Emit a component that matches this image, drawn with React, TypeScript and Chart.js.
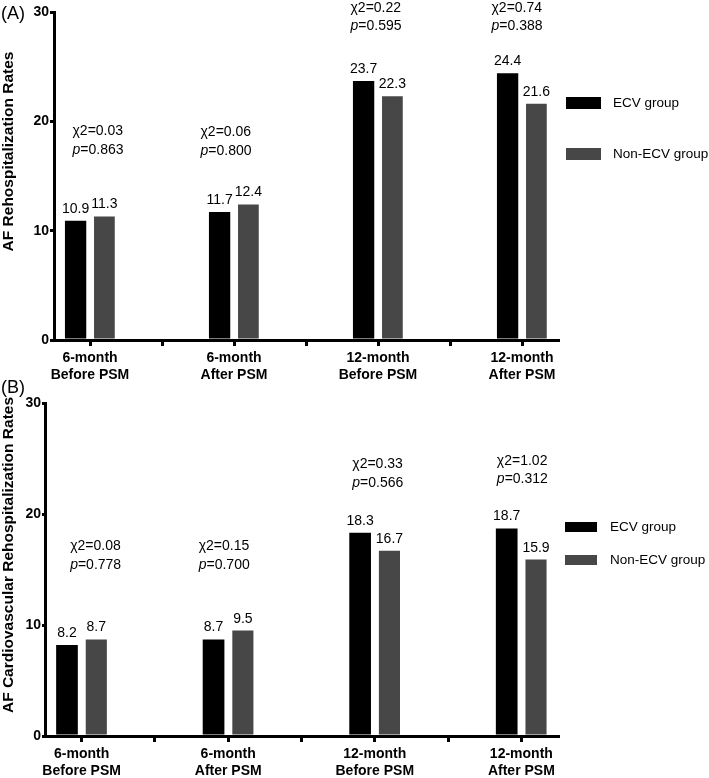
import React, { useEffect, useRef } from "react";
import { Chart, registerables } from "chart.js";

Chart.register(...registerables);

const FONT = 'Arial, "Liberation Sans", Helvetica, sans-serif';

// ---- Data ----
const CATEGORIES: string[][] = [
  ["6-month", "Before PSM"],
  ["6-month", "After PSM"],
  ["12-month", "Before PSM"],
  ["12-month", "After PSM"],
];
const SERIES = ["ECV group", "Non-ECV group"];
const Y_TICKS = [0, 10, 20, 30];

const A_ECV = [10.9, 11.7, 23.7, 24.4];
const A_NON = [11.3, 12.4, 22.3, 21.6];
const A_CHI = ["0.03", "0.06", "0.22", "0.74"];
const A_P = ["0.863", "0.800", "0.595", "0.388"];

const B_ECV = [8.2, 8.7, 18.3, 18.7];
const B_NON = [8.7, 9.5, 16.7, 15.9];
const B_CHI = ["0.08", "0.15", "0.33", "1.02"];
const B_P = ["0.778", "0.700", "0.566", "0.312"];

const COLORS = ["#000000", "#474747"];

function expand<T>(arr: T[], filler: T): T[] {
  const out: T[] = [];
  arr.forEach((v, i) => {
    out.push(v);
    if (i < arr.length - 1) out.push(filler);
  });
  return out;
}

type PanelCfg = {
  tag: string;
  yTitle: string;
  ecv: number[];
  non: number[];
  chi: string[];
  p: string[];
  statY: number[];
  statDx: number[];
  canvasTop: number;
  canvasH: number;
  padTop: number;
  xAxisH: number;
  yAxisW: number;
  tickLenY: number;
  tagY: number;
  titleX: number;
  titleY: number;
  legend: { boxX: number; boxW: number; boxH: number; rows: number[]; textX: number };
};

const PANEL_A: PanelCfg = {
  tag: "(A)",
  yTitle: "AF Rehospitalization Rates",
  ecv: A_ECV,
  non: A_NON,
  chi: A_CHI,
  p: A_P,
  statY: [17.4, 17.3, 28.7, 28.7],
  statDx: [8, -8, -2, -5],
  canvasTop: 0,
  canvasH: 390,
  padTop: 12,
  xAxisH: 50,
  yAxisW: 54,
  tickLenY: 4,
  tagY: 14,
  titleX: 9,
  titleY: 151.5,
  legend: { boxX: 566, boxW: 35, boxH: 12, rows: [103, 154], textX: 613 },
};

const PANEL_B: PanelCfg = {
  tag: "(B)",
  yTitle: "AF Cardiovascular Rehospitalization Rates",
  ecv: B_ECV,
  non: B_NON,
  chi: B_CHI,
  p: B_P,
  statY: [15.4, 15.4, 22.8, 23.1],
  statDx: [14, -4, 3, 1],
  canvasTop: 370,
  canvasH: 408,
  padTop: 33,
  xAxisH: 42,
  yAxisW: 45,
  tickLenY: 3,
  tagY: 18,
  titleX: 8.5,
  titleY: 185,
  legend: { boxX: 565, boxW: 32, boxH: 10, rows: [157, 190], textX: 610 },
};

const decorPlugin = {
  id: "panelDecor",
  afterDraw(chart: any, _args: any, cfg: PanelCfg) {
    const ctx: CanvasRenderingContext2D = chart.ctx;
    const xs = chart.scales.x;
    const ys = chart.scales.y;
    ctx.save();
    ctx.fillStyle = "#000";

    // data labels
    ctx.font = `14px ${FONT}`;
    ctx.textAlign = "center";
    ctx.textBaseline = "alphabetic";
    chart.data.datasets.forEach((ds: any, di: number) => {
      const meta = chart.getDatasetMeta(di);
      meta.data.forEach((el: any, j: number) => {
        const v = ds.data[j];
        if (v == null) return;
        ctx.fillText(Number(v).toFixed(1), el.x, el.y - 8);
      });
    });

    // statistics text
    cfg.chi.forEach((c, i) => {
      const gx = xs.getPixelForValue(i * 2) + cfg.statDx[i];
      const py = ys.getPixelForValue(cfg.statY[i]);
      const cy = py - 18.5;
      ctx.textBaseline = "middle";
      ctx.font = `14px ${FONT}`;
      const chiText = `\u03C72=${c}`;
      const wChi = ctx.measureText(chiText).width;
      ctx.font = `italic 14px ${FONT}`;
      const wP = ctx.measureText("p").width;
      ctx.font = `14px ${FONT}`;
      const rest = `=${cfg.p[i]}`;
      const wRest = ctx.measureText(rest).width;
      const left = gx - Math.max(wChi, wP + wRest) / 2;
      ctx.textAlign = "left";
      ctx.fillText(chiText, left, cy);
      ctx.font = `italic 14px ${FONT}`;
      ctx.fillText("p", left, py);
      ctx.font = `14px ${FONT}`;
      ctx.fillText(rest, left + wP, py);
    });

    // legend
    const lg = cfg.legend;
    chart.data.datasets.forEach((ds: any, di: number) => {
      const cy = lg.rows[di];
      ctx.fillStyle = ds.backgroundColor;
      ctx.fillRect(lg.boxX, cy - lg.boxH / 2, lg.boxW, lg.boxH);
      ctx.fillStyle = "#000";
      ctx.font = `13.5px ${FONT}`;
      ctx.textAlign = "left";
      ctx.textBaseline = "middle";
      ctx.fillText(ds.label, lg.textX, cy);
    });

    // panel tag
    ctx.font = `18px ${FONT}`;
    ctx.textAlign = "left";
    ctx.textBaseline = "middle";
    ctx.fillText(cfg.tag, 1, cfg.tagY);

    // y title
    ctx.save();
    ctx.translate(cfg.titleX, cfg.titleY);
    ctx.rotate(-Math.PI / 2);
    ctx.font = `bold 15.5px ${FONT}`;
    ctx.textAlign = "center";
    ctx.textBaseline = "middle";
    ctx.fillText(cfg.yTitle, 0, 0);
    ctx.restore();

    ctx.restore();
  },
};

function Panel({ cfg }: { cfg: PanelCfg }) {
  const ref = useRef<HTMLCanvasElement | null>(null);
  useEffect(() => {
    if (!ref.current) return;
    const tickFont = { family: FONT, size: 14, weight: "bold" as const, lineHeight: 1.2 };
    const chart = new Chart(ref.current, {
      type: "bar",
      data: {
        labels: expand<any>(CATEGORIES, ""),
        datasets: [
          {
            label: SERIES[0],
            data: expand<number | null>(cfg.ecv, null),
            backgroundColor: COLORS[0],
            categoryPercentage: 0.8,
            barPercentage: 0.74,
          },
          {
            label: SERIES[1],
            data: expand<number | null>(cfg.non, null),
            backgroundColor: COLORS[1],
            categoryPercentage: 0.8,
            barPercentage: 0.72,
          },
        ],
      },
      options: {
        responsive: false,
        animation: false,
        layout: { padding: { top: cfg.padTop, right: 151, left: 0, bottom: 0 } },
        plugins: {
          legend: { display: false },
          tooltip: { enabled: false },
          panelDecor: cfg as any,
        } as any,
        scales: {
          x: {
            type: "category",
            offset: true,
            grid: {
              display: true,
              drawOnChartArea: false,
              drawTicks: true,
              tickLength: 6,
              lineWidth: 3,
              color: "#000",
              offset: false,
            },
            border: { display: true, width: 3, color: "#000" },
            ticks: {
              autoSkip: false,
              maxRotation: 0,
              minRotation: 0,
              padding: 4,
              color: "#000",
              font: tickFont,
            },
            afterFit: (s: any) => {
              s.height = cfg.xAxisH;
            },
          },
          y: {
            min: 0,
            max: 30,
            ticks: { padding: 1, color: "#000", font: tickFont },
            afterBuildTicks: (s: any) => {
              s.ticks = Y_TICKS.map((v) => ({ value: v }));
            },
            grid: {
              display: true,
              drawOnChartArea: false,
              drawTicks: true,
              tickLength: cfg.tickLenY,
              lineWidth: 3,
              color: "#000",
            },
            border: { display: true, width: 3, color: "#000" },
            afterFit: (s: any) => {
              s.width = cfg.yAxisW;
            },
          },
        },
      } as any,
      plugins: [decorPlugin as any],
    });
    return () => chart.destroy();
  }, [cfg]);
  return (
    <canvas
      ref={ref}
      width={709}
      height={cfg.canvasH}
      style={{ position: "absolute", left: 0, top: cfg.canvasTop, width: 709, height: cfg.canvasH }}
    />
  );
}

export default function App() {
  return (
    <div style={{ position: "absolute", left: 0, top: 0, width: 709, height: 778, background: "#fff" }}>
      <Panel cfg={PANEL_A} />
      <Panel cfg={PANEL_B} />
    </div>
  );
}
